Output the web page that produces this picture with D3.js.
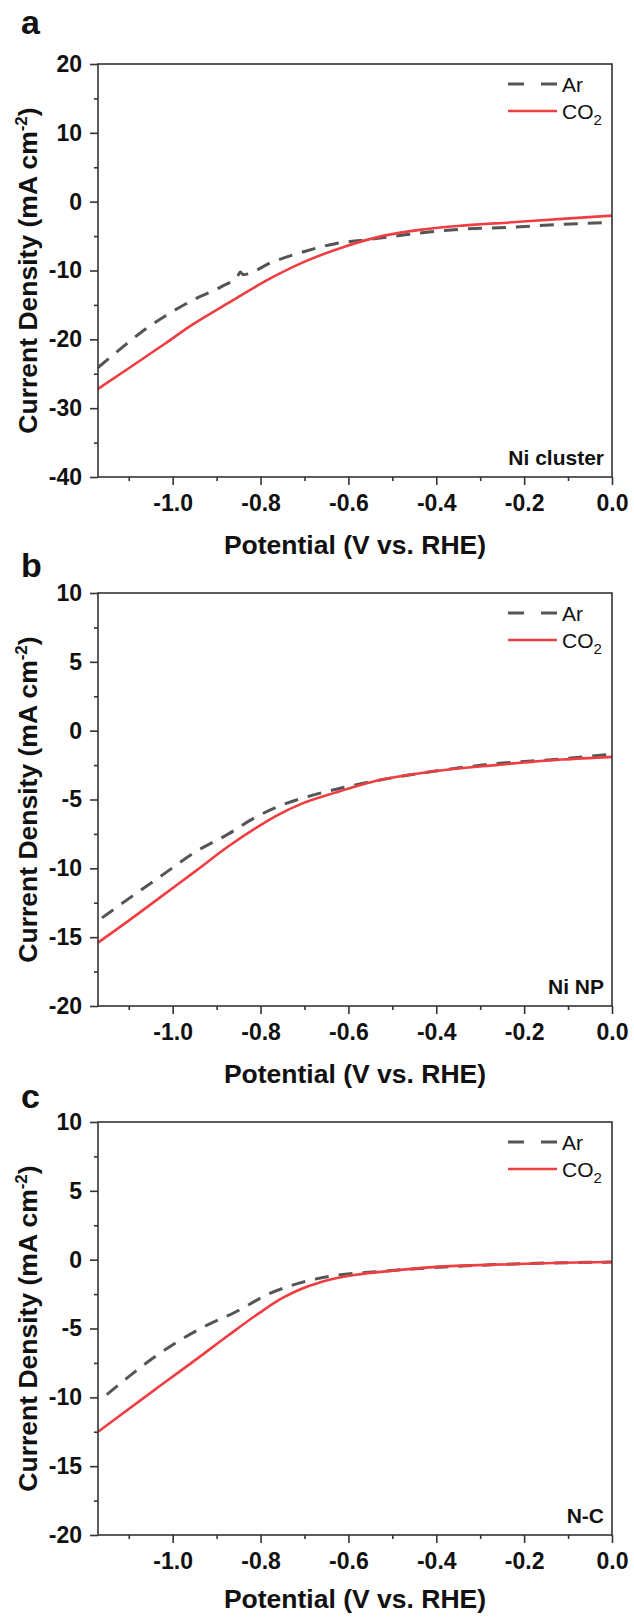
<!DOCTYPE html>
<html><head><meta charset="utf-8">
<script src="https://cdn.jsdelivr.net/npm/d3@7"></script>
<style>
body{margin:0;background:#fff;}
svg{display:block;}
text{font-family:"Liberation Sans",Arial,sans-serif;fill:#111;}
</style>
</head><body>
<svg id="chart" width="634" height="1617"></svg>
<script>
// ---------- data ----------
const panelLetters = ["a", "b", "c"];
const sampleNames = ["Ni cluster", "Ni NP", "N-C"];
const seriesNames = ["Ar", "CO2"];
const xDomain = [-1.17, 0];
const xMajorTicks = [-1.0, -0.8, -0.6, -0.4, -0.2, 0.0];
const xMinorTicks = [-1.1, -0.9, -0.7, -0.5, -0.3, -0.1];
const yDomains = [[-40, 20], [-20, 10], [-20, 10]];
const yMajorTicks = [[-40, -30, -20, -10, 0, 10, 20], [-20, -15, -10, -5, 0, 5, 10], [-20, -15, -10, -5, 0, 5, 10]];
const yMinorTicks = [[-35, -25, -15, -5, 5, 15], [-17.5, -12.5, -7.5, -2.5, 2.5, 7.5], [-17.5, -12.5, -7.5, -2.5, 2.5, 7.5]];

// Panel a (Ni cluster)
const aArV  = [-1.17, -1.123, -1.07, -1.017, -0.948, -0.888, -0.852, -0.846, -0.84, -0.774, -0.698, -0.63, -0.554, -0.493, -0.417, -0.341, -0.228, -0.114, 0.0];
const aArJ  = [-24.1, -21.6, -18.9, -16.6, -14.1, -12.3, -10.8, -10.2, -10.6, -8.8, -7.2, -6.1, -5.5, -5.0, -4.4, -4.0, -3.7, -3.3, -3.0];
const aCO2V = [-1.17, -1.1, -1.017, -0.956, -0.873, -0.782, -0.706, -0.607, -0.516, -0.433, -0.341, -0.228, -0.114, 0.0];
const aCO2J = [-27.2, -24.2, -20.6, -17.9, -14.7, -11.3, -8.9, -6.5, -4.9, -4.06, -3.48, -3.0, -2.5, -2.03];
// Panel b (Ni NP)
const bArV  = [-1.161, -1.1, -1.024, -0.948, -0.873, -0.812, -0.751, -0.683, -0.607, -0.531, -0.417, -0.266, -0.114, 0.0];
const bArJ  = [-13.6, -12.2, -10.5, -8.8, -7.5, -6.3, -5.4, -4.7, -4.1, -3.6, -3.0, -2.4, -2.05, -1.7];
const bCO2V = [-1.17, -1.1, -1.024, -0.948, -0.873, -0.812, -0.759, -0.706, -0.63, -0.531, -0.417, -0.266, -0.114, 0.0];
const bCO2J = [-15.4, -13.8, -12.0, -10.2, -8.4, -7.1, -6.1, -5.3, -4.5, -3.6, -3.0, -2.5, -2.1, -1.9];
// Panel c (N-C)
const cArV  = [-1.15, -1.1, -1.047, -0.986, -0.918, -0.857, -0.782, -0.706, -0.63, -0.554, -0.455, -0.266, 0.0];
const cArJ  = [-9.8, -8.5, -7.2, -5.9, -4.7, -3.8, -2.5, -1.65, -1.14, -0.92, -0.68, -0.36, -0.17];
const cCO2V = [-1.17, -1.1, -1.024, -0.948, -0.873, -0.804, -0.751, -0.713, -0.66, -0.584, -0.493, -0.417, -0.266, -0.114, 0.0];
const cCO2J = [-12.5, -10.85, -9.05, -7.28, -5.49, -3.9, -2.8, -2.2, -1.6, -1.1, -0.78, -0.56, -0.36, -0.22, -0.17];

const panelSeries = [
  [[aArV, aArJ], [aCO2V, aCO2J]],
  [[bArV, bArJ], [bCO2V, bCO2J]],
  [[cArV, cArJ], [cCO2V, cCO2J]]
];

// ---------- layout ----------
const svg = d3.select("#chart");
const left = 98, right = 612, plotH = 413;
const panelTops = [64, 593, 1122];
const letterBaselines = [34, 577, 1108];
const colors = ["#555555", "#ef3e42"];
const fmtY = d => String(d).replace("\u2212", "-");
const fmtX = d => (d < 0 ? "-" : "") + Math.abs(d).toFixed(1);

const x = d3.scaleLinear().domain(xDomain).range([left, right]);

panelTops.forEach((top, p) => {
  const bottom = top + plotH;
  const y = d3.scaleLinear().domain(yDomains[p]).range([bottom, top]);
  const g = svg.append("g");

  // panel letter
  svg.append("text").attr("x", 21).attr("y", letterBaselines[p])
    .attr("font-size", 34).attr("font-weight", "bold").text(panelLetters[p]);

  // clip
  const clipId = "clip" + p;
  svg.append("clipPath").attr("id", clipId).append("rect")
    .attr("x", left).attr("y", top).attr("width", right - left).attr("height", plotH);

  // series
  const line = d3.line().x(d => x(d[0])).y(d => y(d[1])).curve(d3.curveMonotoneX);
  panelSeries[p].forEach((s, i) => {
    const pts = s[0].map((v, k) => [v, s[1][k]]);
    g.append("path").datum(pts)
      .attr("clip-path", `url(#${clipId})`)
      .attr("fill", "none")
      .attr("stroke", colors[i])
      .attr("stroke-width", i === 0 ? 3 : 2.6)
      .attr("stroke-dasharray", i === 0 ? "14,10" : null)
      .attr("d", line);
  });

  // frame
  g.append("rect").attr("x", left).attr("y", top).attr("width", right - left).attr("height", plotH)
    .attr("fill", "none").attr("stroke", "#333").attr("stroke-width", 1.6);

  // x axis
  const xAx = g.append("g").attr("transform", `translate(0,${bottom})`)
    .call(d3.axisBottom(x).tickValues(xMajorTicks).tickFormat(fmtX).tickSize(8).tickPadding(10));
  const xMin = g.append("g").attr("transform", `translate(0,${bottom})`)
    .call(d3.axisBottom(x).tickValues(xMinorTicks).tickFormat("").tickSize(4));
  // y axis
  const yAx = g.append("g").attr("transform", `translate(${left},0)`)
    .call(d3.axisLeft(y).tickValues(yMajorTicks[p]).tickFormat(fmtY).tickSize(8).tickPadding(8));
  const yMin = g.append("g").attr("transform", `translate(${left},0)`)
    .call(d3.axisLeft(y).tickValues(yMinorTicks[p]).tickFormat("").tickSize(4));
  [xAx, xMin, yAx, yMin].forEach(a => {
    a.select(".domain").remove();
    a.selectAll("line").attr("stroke", "#333").attr("stroke-width", 1.6);
    a.selectAll("text").attr("font-size", 23).attr("font-weight", "bold")
      .attr("font-family", "'Liberation Sans', Arial, sans-serif").attr("fill", "#111");
  });

  // axis titles
  svg.append("text").attr("x", (left + right) / 2).attr("y", Math.min(bottom + 77, 1608))
    .attr("text-anchor", "middle").attr("font-size", 26.5).attr("font-weight", "bold")
    .text("Potential (V vs. RHE)");
  const yt = svg.append("text")
    .attr("transform", `translate(37,${(top + bottom) / 2}) rotate(-90)`)
    .attr("text-anchor", "middle").attr("font-size", 26.5).attr("font-weight", "bold");
  yt.append("tspan").text("Current Density (mA cm");
  yt.append("tspan").attr("dy", -10).attr("font-size", 17).text("-2");
  yt.append("tspan").attr("dy", 10).text(")");

  // sample annotation
  svg.append("text").attr("x", right - 8).attr("y", bottom - 12)
    .attr("text-anchor", "end").attr("font-size", 21).attr("font-weight", "bold")
    .text(sampleNames[p]);

  // legend
  seriesNames.forEach((name, i) => {
    const ly = top + 20 + i * 27;
    svg.append("line").attr("x1", 508).attr("x2", 557).attr("y1", ly).attr("y2", ly)
      .attr("stroke", colors[i]).attr("stroke-width", i === 0 ? 3 : 2.6)
      .attr("stroke-dasharray", i === 0 ? "16,17" : null);
    const t = svg.append("text").attr("x", 562).attr("y", ly + 8).attr("font-size", 21);
    if (name === "CO2") {
      t.append("tspan").text("CO");
      t.append("tspan").attr("dy", 6).attr("font-size", 15).text("2");
    } else {
      t.text(name);
    }
  });
});
</script>
</body></html>
